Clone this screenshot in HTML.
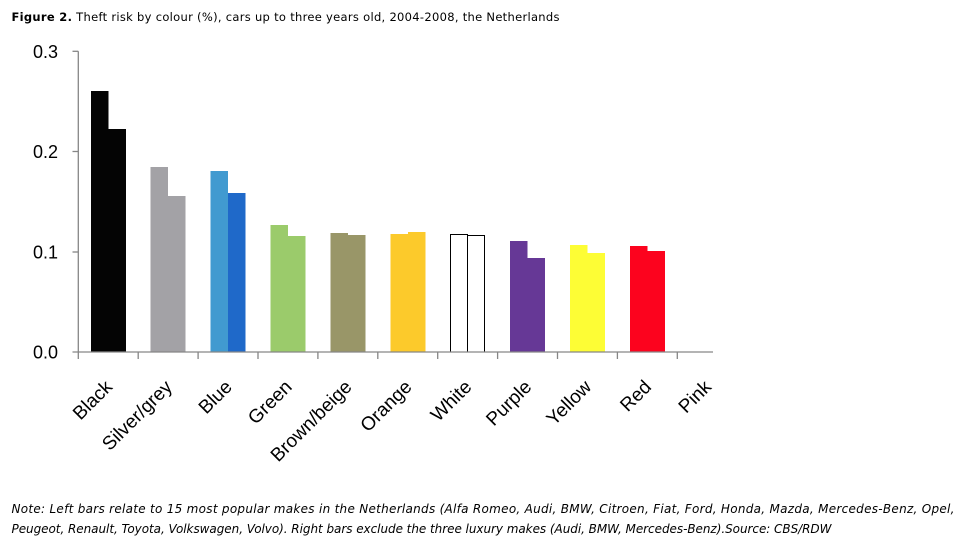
<!DOCTYPE html>
<html><head><meta charset="utf-8"><style>
html,body{margin:0;padding:0;background:#fff;}
svg{display:block;}
</style></head><body>
<svg width="962" height="546" viewBox="0 0 962 546" xmlns="http://www.w3.org/2000/svg">
<rect width="962" height="546" fill="#fff"/>
<text x="11.5" y="21" font-family="DejaVu Sans, Verdana, sans-serif" font-size="11.5" fill="#000" textLength="548" lengthAdjust="spacing"><tspan font-weight="bold">Figure 2.</tspan> Theft risk by colour (%), cars up to three years old, 2004-2008, the Netherlands</text>

<!-- bars -->
<g shape-rendering="crispEdges">
<rect x="90.8" y="91" width="17.5" height="261" fill="#040404"/>
<rect x="108.3" y="129" width="17.5" height="223" fill="#040404"/>
<rect x="150.7" y="167" width="17.5" height="185" fill="#a3a2a6"/>
<rect x="168.2" y="196" width="17.5" height="156" fill="#a3a2a6"/>
<rect x="210.6" y="171" width="17.5" height="181" fill="#419ad0"/>
<rect x="228.1" y="193" width="17.5" height="159" fill="#1f69c9"/>
<rect x="270.5" y="225" width="17.5" height="127" fill="#9bcb6b"/>
<rect x="288" y="236" width="17.5" height="116" fill="#9bcb6b"/>
<rect x="330.4" y="233" width="17.5" height="119" fill="#999668"/>
<rect x="347.9" y="235" width="17.5" height="117" fill="#999668"/>
<rect x="390.3" y="234" width="17.5" height="118" fill="#fcca2b"/>
<rect x="407.8" y="232" width="17.5" height="120" fill="#fcca2b"/>
<rect x="450.7" y="234.5" width="17" height="117.5" fill="#fff" stroke="#000" stroke-width="1"/>
<rect x="467.7" y="235.5" width="17" height="116.5" fill="#fff" stroke="#000" stroke-width="1"/>
<rect x="510.1" y="241" width="17.5" height="111" fill="#663896"/>
<rect x="527.6" y="258" width="17.5" height="94" fill="#663896"/>
<rect x="570" y="245" width="17.5" height="107" fill="#fdfd35"/>
<rect x="587.5" y="253" width="17.5" height="99" fill="#fdfd35"/>
<rect x="629.9" y="246" width="17.5" height="106" fill="#fc031e"/>
<rect x="647.4" y="251" width="17.5" height="101" fill="#fc031e"/>
</g>

<!-- axes -->
<g stroke="#868686" stroke-width="1.3" fill="none">
<line x1="78.3" y1="51.3" x2="78.3" y2="352"/>
<line x1="72.5" y1="51.3" x2="78.3" y2="51.3"/>
<line x1="72.5" y1="151.5" x2="78.3" y2="151.5"/>
<line x1="72.5" y1="252" x2="78.3" y2="252"/>
<line x1="72.5" y1="352" x2="713" y2="352"/>
<line x1="78.3" y1="352" x2="78.3" y2="359"/>
<line x1="138.2" y1="352" x2="138.2" y2="359"/>
<line x1="198.1" y1="352" x2="198.1" y2="359"/>
<line x1="258" y1="352" x2="258" y2="359"/>
<line x1="317.9" y1="352" x2="317.9" y2="359"/>
<line x1="377.8" y1="352" x2="377.8" y2="359"/>
<line x1="437.7" y1="352" x2="437.7" y2="359"/>
<line x1="497.6" y1="352" x2="497.6" y2="359"/>
<line x1="557.5" y1="352" x2="557.5" y2="359"/>
<line x1="617.4" y1="352" x2="617.4" y2="359"/>
<line x1="677.3" y1="352" x2="677.3" y2="359"/>
</g>

<!-- y labels -->
<g font-family="Liberation Sans, Arial, sans-serif" font-size="18" fill="#000" text-anchor="end">
<text x="58" y="57.8">0.3</text>
<text x="58" y="158">0.2</text>
<text x="58" y="258.5">0.1</text>
<text x="58" y="358.5">0.0</text>
</g>

<!-- x labels -->
<g font-family="Liberation Sans, Arial, sans-serif" font-size="19" fill="#000" text-anchor="end">
<text transform="translate(113.3,388) rotate(-45)">Black</text>
<text transform="translate(173.2,388) rotate(-45)">Silver/grey</text>
<text transform="translate(233.1,388) rotate(-45)">Blue</text>
<text transform="translate(293,388) rotate(-45)">Green</text>
<text transform="translate(352.9,388) rotate(-45)">Brown/beige</text>
<text transform="translate(412.8,388) rotate(-45)">Orange</text>
<text transform="translate(472.7,388) rotate(-45)">White</text>
<text transform="translate(532.6,388) rotate(-45)">Purple</text>
<text transform="translate(592.5,388) rotate(-45)">Yellow</text>
<text transform="translate(652.4,388) rotate(-45)">Red</text>
<text transform="translate(712.3,388) rotate(-45)">Pink</text>
</g>

<!-- note -->
<g font-family="DejaVu Sans, Verdana, sans-serif" font-size="12" font-style="italic" fill="#000">
<text x="11.5" y="513" textLength="943" lengthAdjust="spacing">Note: Left bars relate to 15 most popular makes in the Netherlands (Alfa Romeo, Audi, BMW, Citroen, Fiat, Ford, Honda, Mazda, Mercedes-Benz, Opel,</text>
<text x="11.5" y="533" textLength="820" lengthAdjust="spacing">Peugeot, Renault, Toyota, Volkswagen, Volvo). Right bars exclude the three luxury makes (Audi, BMW, Mercedes-Benz).Source: CBS/RDW</text>
</g>
</svg>
</body></html>
